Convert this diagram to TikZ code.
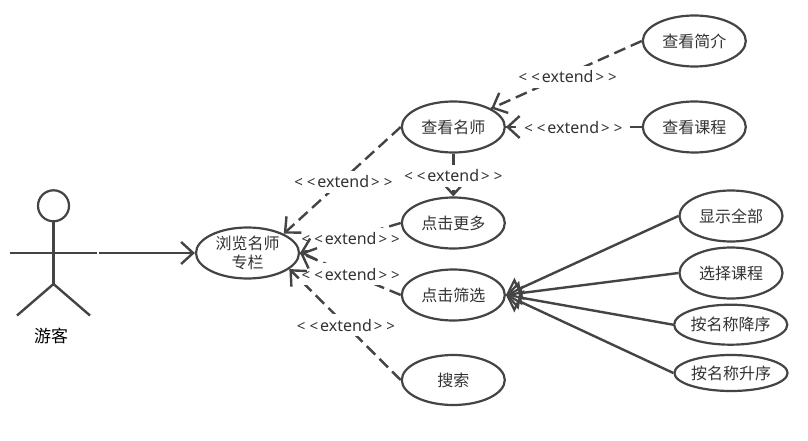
\documentclass[tikz,border=0pt]{standalone}
\usepackage{fontspec}
\setmainfont{Noto Sans CJK SC}
\newfontfamily\latinf{Noto Sans}
\usetikzlibrary{arrows.meta,shapes.geometric}
\definecolor{ink}{HTML}{444444}
\definecolor{txt}{HTML}{333333}
\newcommand{\LT}{\makebox[12.6pt]{\fontsize{15}{15}\selectfont <}}
\newcommand{\GT}{\makebox[12.6pt]{\fontsize{15}{15}\selectfont >}}
\tikzset{
  usecase/.style={draw=ink,line width=2.2pt,ellipse,fill=white,inner sep=0pt,text=txt,font=\fontsize{16}{19}\selectfont,align=center,minimum width=#1},
  extlabel/.style={fill=white,inner sep=0pt,minimum height=22pt,text=txt,font=\latinf\fontsize{16}{19}\selectfont},
  limb/.style={draw=ink,line width=2.4pt},
  barb/.style={-{Straight Barb[length=12pt,width=22pt,line width=2.4pt]}},
  depend/.style={draw=ink,line width=2.4pt,dash pattern=on 12pt off 6pt},
  tiponly/.style={draw=ink,line width=2.4pt,dash pattern=on 0pt off 3000pt,barb},
  assoc/.style={draw=ink,line width=2.4pt,barb},
  general/.style={draw=ink,line width=2.4pt,-{Triangle[open,length=15pt,width=24pt,line width=2.2pt]}}
}
\begin{document}
\begin{tikzpicture}[x=1pt,y=-1pt]
\fill[white] (0,0) rectangle (808,441);
\useasboundingbox (0,0) rectangle (808,441);
% actor
\node[circle,draw=ink,line width=2.2pt,minimum size=31pt,inner sep=0pt] (head) at (53.5,205.8) {};
\coordinate (hip) at (53.5,284);
\coordinate (handL) at (10,253);
\coordinate (handR) at (97,253);
\coordinate (footL) at (17,315.5);
\coordinate (footR) at (90,315.5);
\coordinate (assocstart) at (99,253);
\draw[limb] (head.south) -- (hip);
\draw[limb] (handL) -- (handR);
\draw[limb] (footL) -- (hip) -- (footR);
\node[font=\fontsize{17}{19}\selectfont,text=black] (actorname) at (51,336) {游客};
% use cases
\node[usecase=103pt,minimum height=51pt] (browse) at (247.5,253) {浏览名师\\专栏};
\node[usecase=103pt,minimum height=51pt] (teacher) at (453.3,127) {查看名师};
\node[usecase=103pt,minimum height=51pt] (more) at (453.3,223) {点击更多};
\node[usecase=103pt,minimum height=51pt] (filter) at (453.3,295) {点击筛选};
\node[usecase=103pt,minimum height=50pt] (search) at (453.3,380) {搜索};
\node[usecase=103pt,minimum height=51pt] (intro) at (694.3,41) {查看简介};
\node[usecase=103pt,minimum height=51pt] (course) at (694.3,127) {查看课程};
\node[usecase=103pt,minimum height=51pt] (all) at (731,216) {显示全部};
\node[usecase=103pt,minimum height=51pt] (pick) at (731,273) {选择课程};
\node[usecase=110pt,minimum height=40pt] (desc) at (730.7,324.7) {按名称降序};
\node[usecase=113pt,minimum height=36pt] (asc) at (731,373) {按名称升序};
% connectors
\draw[assoc] (assocstart) -- (browse.west);
\draw[depend] (teacher.west) -- (browse.28);
\draw[depend] (more.west) -- (browse.east);
\draw[depend] (filter.west) -- (browse.east);
\draw[depend] (search.west) -- (browse.-21);
\draw[depend,barb] (teacher.south) -- (more.north);
\draw[depend] (intro.west) -- (teacher.26);
\draw[depend] (course.west) -- (teacher.east);
\draw[general] (all.west) -- (filter.east);
\draw[general] (pick.west) -- (filter.east);
\draw[general] (desc.west) -- (filter.east);
\draw[general] (asc.west) -- (filter.east);
% labels
\node[extlabel] (l1) at (343.3,181.7) {\LT\LT extend\GT\GT};
\node[extlabel] (l2) at (453.3,175.7) {\LT\LT extend\GT\GT};
\node[extlabel] (l3) at (350.7,238.7) {\LT\LT extend\GT\GT};
\node[extlabel] (l4) at (350.7,274.3) {\LT\LT extend\GT\GT};
\node[extlabel] (l5) at (346,325) {\LT\LT extend\GT\GT};
\node[extlabel] (l6) at (567.7,76.7) {\LT\LT extend\GT\GT};
\node[extlabel] (l7) at (573.3,127.3) {\LT\LT extend\GT\GT};
% arrow tips, above the labels
\draw[tiponly] (teacher.west) -- (browse.28);
\draw[tiponly] (more.west) -- (browse.east);
\draw[tiponly] (filter.west) -- (browse.east);
\draw[tiponly] (search.west) -- (browse.-21);
\draw[tiponly] (intro.west) -- (teacher.26);
\draw[tiponly] (course.west) -- (teacher.east);
\end{tikzpicture}
\end{document}
